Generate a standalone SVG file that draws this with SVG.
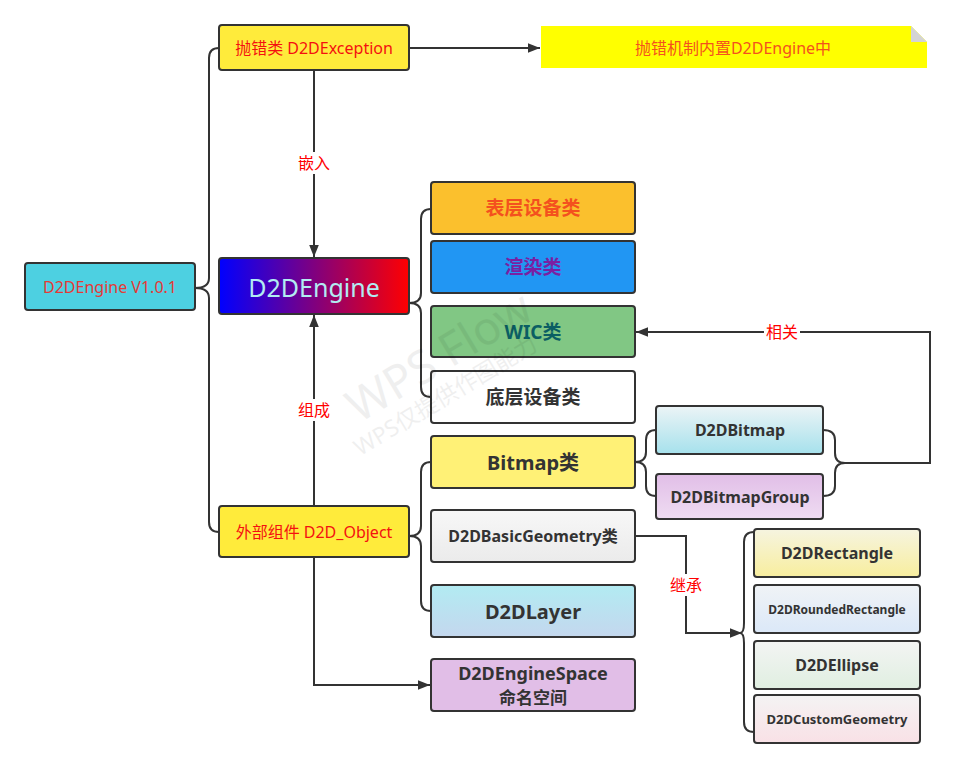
<svg xmlns="http://www.w3.org/2000/svg" width="953" height="768" viewBox="0 0 953 768">
<defs>
<style>
text{font-family:"Noto Sans","Noto Sans CJK SC",sans-serif;text-anchor:middle;dominant-baseline:central}
.box{stroke:#333;stroke-width:2}
.b{font-weight:bold;fill:#333}
.lnk{fill:none;stroke:#333;stroke-width:2}
.lbl{fill:#f00;font-size:16px}
.lblbg{fill:#fff}
</style>
<linearGradient id="gEng" x1="0" y1="0" x2="1" y2="0"><stop offset="0" stop-color="#0000ff"/><stop offset="1" stop-color="#ff0000"/></linearGradient>
<linearGradient id="gGeo" x1="0" y1="0" x2="0" y2="1"><stop offset="0" stop-color="#f7f7f7"/><stop offset="1" stop-color="#ebebeb"/></linearGradient>
<linearGradient id="gLay" x1="0" y1="0" x2="0" y2="1"><stop offset="0" stop-color="#b2ebf2"/><stop offset="1" stop-color="#c4d7ee"/></linearGradient>
<linearGradient id="gBmp" x1="0" y1="0" x2="0" y2="1"><stop offset="0" stop-color="#ecf4f6"/><stop offset="1" stop-color="#a6e1ec"/></linearGradient>
<linearGradient id="gBmg" x1="0" y1="0" x2="0" y2="1"><stop offset="0" stop-color="#e1bee7"/><stop offset="1" stop-color="#efdcf2"/></linearGradient>
<linearGradient id="gRec" x1="0" y1="0" x2="0" y2="1"><stop offset="0" stop-color="#f6f4e0"/><stop offset="1" stop-color="#f8ee9e"/></linearGradient>
<linearGradient id="gRnd" x1="0" y1="0" x2="0" y2="1"><stop offset="0" stop-color="#f0f3f6"/><stop offset="1" stop-color="#dbe8f8"/></linearGradient>
<linearGradient id="gEll" x1="0" y1="0" x2="0" y2="1"><stop offset="0" stop-color="#f3f4f3"/><stop offset="1" stop-color="#e0efe1"/></linearGradient>
<linearGradient id="gCus" x1="0" y1="0" x2="0" y2="1"><stop offset="0" stop-color="#f4f3f3"/><stop offset="1" stop-color="#f9e1e6"/></linearGradient>
<marker id="arr" viewBox="0 0 10 10" refX="10" refY="5" markerWidth="6" markerHeight="6" orient="auto" markerUnits="strokeWidth"><path d="M0,1 L10,5 L0,9 z" fill="#333"/></marker>
</defs>
<rect width="953" height="768" fill="#fff"/>

<g id="connectors">
<path class="lnk" d="M219,48 Q209,48 209,58 V278 Q209,288 195,288 Q209,288 209,298 V522 Q209,532 219,532"/>
<path class="lnk" d="M409,48 H540" marker-end="url(#arr)"/>
<path class="lnk" d="M314,70 V257" marker-end="url(#arr)"/>
<path class="lnk" d="M314,506 V315" marker-end="url(#arr)"/>
<path class="lnk" d="M314,557 V685 H430" marker-end="url(#arr)"/>
<path class="lnk" d="M431,209 Q421,209 421,219 V293 Q421,303 409,303 Q421,303 421,313 V387 Q421,397 431,397"/>
<path class="lnk" d="M431,462 Q421,462 421,472 V526 Q421,536 409,536 Q421,536 421,546 V601 Q421,611 431,611"/>
<path class="lnk" d="M656,430 Q646,430 646,440 V452 Q646,462 635,462 Q646,462 646,472 V486 Q646,496 656,496"/>
<path class="lnk" d="M823,430 Q835,430 835,440 V453 Q835,463 845,463 Q835,463 835,473 V486 Q835,496 823,496"/>
<path class="lnk" d="M845,463 H930 V332 H636" marker-end="url(#arr)"/>
<path class="lnk" d="M635,536 H686 V633 H742" marker-end="url(#arr)"/>
<path class="lnk" d="M754,532 Q744,532 744,542 V623 Q744,633 740,633 Q744,633 744,643 V722 Q744,732 754,732"/>
<rect class="lblbg" x="296" y="152" width="36" height="22"/>
<text class="lbl" x="314" y="163">嵌入</text>
<rect class="lblbg" x="296" y="399" width="36" height="22"/>
<text class="lbl" x="314" y="410">组成</text>
<rect class="lblbg" x="764" y="321" width="36" height="22"/>
<text class="lbl" x="782" y="332">相关</text>
<rect class="lblbg" x="668" y="574" width="36" height="22"/>
<text class="lbl" x="686" y="585">继承</text>
</g>

<g id="root"><rect class="box" x="25" y="263" width="170" height="47" rx="3" fill="#4dd0e1"/><text x="110" y="287" font-size="16" fill="#e53935">D2DEngine V1.0.1</text></g>
<g id="exception"><rect class="box" x="219" y="25" width="190" height="45" rx="3" fill="#ffeb3b"/><text x="314" y="48" font-size="16" fill="#f41010">抛错类 D2DException</text></g>
<g id="note"><polygon points="541,26 911,26 927,42 927,68 541,68" fill="#ffff00"/><polygon points="911,26 911,42 927,42" fill="#d4d4d4"/><text x="733" y="48" font-size="16" fill="#f4511e">抛错机制内置D2DEngine中</text></g>
<g id="engine"><rect class="box" x="219" y="258" width="190" height="56" rx="3" fill="url(#gEng)"/><text x="314" y="287" font-size="25" fill="#b2ebf2">D2DEngine</text></g>
<g id="object"><rect class="box" x="219" y="506" width="190" height="51" rx="3" fill="#ffeb3b"/><text x="314" y="532" font-size="16" fill="#f41010">外部组件 D2D_Object</text></g>

<g id="surface"><rect class="box" x="431" y="182" width="204" height="52" rx="3" fill="#fbc02d"/><text class="b" x="533" y="208" font-size="19" style="fill:#f4511e">表层设备类</text></g>
<g id="render"><rect class="box" x="431" y="241" width="204" height="52" rx="3" fill="#2196f3"/><text class="b" x="533" y="267" font-size="19" style="fill:#7b1fa2">渲染类</text></g>
<g id="wic"><rect class="box" x="431" y="306" width="204" height="51" rx="3" fill="#81c784"/><text class="b" x="533" y="332" font-size="19" style="fill:#0b5e63">WIC类</text></g>
<g id="device"><rect class="box" x="431" y="371" width="204" height="52" rx="3" fill="#fff"/><text class="b" x="533" y="397" font-size="19">底层设备类</text></g>

<g id="bitmapcls"><rect class="box" x="431" y="436" width="204" height="52" rx="3" fill="#fff176"/><text class="b" x="533" y="462" font-size="20">Bitmap类</text></g>
<g id="geometry"><rect class="box" x="431" y="510" width="204" height="52" rx="3" fill="url(#gGeo)"/><text class="b" x="533" y="536" font-size="16">D2DBasicGeometry类</text></g>
<g id="layer"><rect class="box" x="431" y="585" width="204" height="52" rx="3" fill="url(#gLay)"/><text class="b" x="533" y="611" font-size="20">D2DLayer</text></g>
<g id="space"><rect class="box" x="431" y="659" width="204" height="52" rx="3" fill="#e1bee7"/><text class="b" x="533" y="673" font-size="18">D2DEngineSpace</text><text class="b" x="533" y="697" font-size="17">命名空间</text></g>

<g id="bitmap"><rect class="box" x="656" y="406" width="167" height="48" rx="3" fill="url(#gBmp)"/><text class="b" x="740" y="430" font-size="16">D2DBitmap</text></g>
<g id="bitmapgroup"><rect class="box" x="656" y="474" width="167" height="45" rx="3" fill="url(#gBmg)"/><text class="b" x="740" y="497" font-size="16">D2DBitmapGroup</text></g>

<g id="rectangle"><rect class="box" x="754" y="529" width="166" height="48" rx="3" fill="url(#gRec)"/><text class="b" x="837" y="553" font-size="16">D2DRectangle</text></g>
<g id="rounded"><rect class="box" x="754" y="585" width="166" height="48" rx="3" fill="url(#gRnd)"/><text class="b" x="837" y="609" font-size="12">D2DRoundedRectangle</text></g>
<g id="ellipse"><rect class="box" x="754" y="641" width="166" height="48" rx="3" fill="url(#gEll)"/><text class="b" x="837" y="665" font-size="16">D2DEllipse</text></g>
<g id="custom"><rect class="box" x="754" y="695" width="166" height="48" rx="3" fill="url(#gCus)"/><text class="b" x="837" y="719" font-size="13">D2DCustomGeometry</text></g>

<g id="watermark" fill="#000" opacity="0.06">
<text x="438" y="355" font-size="46" transform="rotate(-31 438 355)">WPS Flow</text>
<text x="445" y="395" font-size="23" transform="rotate(-31 445 395)">WPS仅提供作图能力</text>
</g>
</svg>
